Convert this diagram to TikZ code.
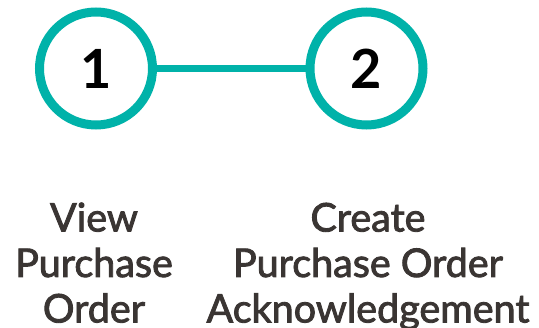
\documentclass[tikz,border=0pt]{standalone}
\usepackage{fontspec}
\setmainfont{Lato}
\newfontfamily\labelfont{Lato}[FakeBold=2.2]
\definecolor{teal1}{HTML}{00B2A9}
\definecolor{txtgray}{HTML}{3A3533}
\begin{document}
\begin{tikzpicture}[x=1pt,y=-1pt,
  stepcircle/.style={circle,draw=teal1,line width=9pt,minimum size=113pt,inner sep=0pt,fill=white,
    font=\fontsize{54}{54}\selectfont\bfseries,text=black},
  steplabel/.style={align=center,anchor=base,text=txtgray,inner sep=0pt,
    font=\labelfont\fontsize{39.5}{45.5}\selectfont}]
\useasboundingbox (0,0) rectangle (539,328);
\node[stepcircle] (c1) at (96,68.5) {1};
\node[stepcircle] (c2) at (366.5,68.5) {2};
\draw[teal1,line width=7pt] (c1) -- (c2);
\node[steplabel] (l1) at (94,322.5) {View\\Purchase\\Order};
\node[steplabel] (l2) at (368,322.5) {Create\\Purchase Order\\Acknowledgement};
\end{tikzpicture}
\end{document}
